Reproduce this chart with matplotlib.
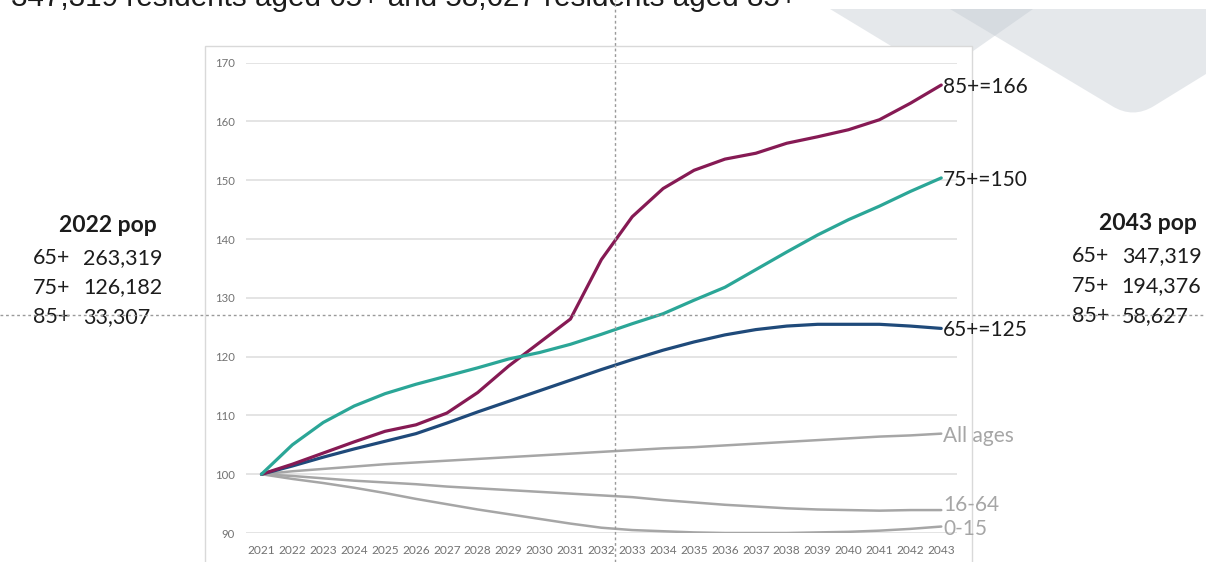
import matplotlib
matplotlib.use("Agg")
import matplotlib.pyplot as plt
import matplotlib.transforms as mtransforms
from matplotlib.patches import Polygon, Rectangle, PathPatch
from matplotlib.path import Path
from matplotlib.lines import Line2D

plt.rcParams["font.family"] = ["Lato", "DejaVu Sans"]

# ---- data: population index, 2021 = 100 ----
years = list(range(2021, 2044))

age_85_plus = [100, 101.7, 103.6, 105.5, 107.3, 108.4, 110.4, 113.9, 118.4, 122.4,
               126.4, 136.5, 143.8, 148.6, 151.7, 153.6, 154.6, 156.3, 157.4, 158.6,
               160.3, 163.1, 166.2]
age_75_plus = [100, 105.0, 108.8, 111.6, 113.7, 115.3, 116.7, 118.1, 119.6, 120.7,
               122.1, 123.8, 125.6, 127.3, 129.6, 131.8, 134.8, 137.8, 140.7, 143.3,
               145.6, 148.1, 150.4]
age_65_plus = [100, 101.4, 102.9, 104.3, 105.6, 106.9, 108.7, 110.6, 112.4, 114.2,
               116.0, 117.8, 119.5, 121.1, 122.5, 123.7, 124.6, 125.2, 125.5, 125.5,
               125.5, 125.2, 124.8]
all_ages = [100, 100.5, 100.9, 101.3, 101.7, 102.0, 102.3, 102.6, 102.9, 103.2,
            103.5, 103.8, 104.1, 104.4, 104.6, 104.9, 105.2, 105.5, 105.8, 106.1,
            106.4, 106.6, 106.9]
age_16_64 = [100, 99.7, 99.3, 98.9, 98.6, 98.3, 97.9, 97.6, 97.3, 97.0,
             96.7, 96.4, 96.1, 95.6, 95.2, 94.8, 94.5, 94.2, 94.0, 93.9,
             93.8, 93.9, 93.9]
age_0_15 = [100, 99.2, 98.5, 97.7, 96.8, 95.8, 94.9, 94.0, 93.2, 92.4,
            91.6, 90.9, 90.5, 90.3, 90.1, 90.0, 90.0, 90.0, 90.1, 90.2,
            90.4, 90.7, 91.1]

y_ticks = [90, 100, 110, 120, 130, 140, 150, 160, 170]

pop_2022_groups = ["65+", "75+", "85+"]
pop_2022_values = ["263,319", "126,182", "33,307"]
pop_2043_groups = ["65+", "75+", "85+"]
pop_2043_values = ["347,319", "194,376", "58,627"]

headline = "347,319 residents aged 65+ and 58,627 residents aged 85+"

# reference markers
marker_year = 2032.43
marker_index = 127.0

# ---- styling ----
C_85 = "#861a54"
C_75 = "#2ba697"
C_65 = "#1f4a7a"
C_GREY = "#a6a6a6"
C_GRID = "#dcdcdc"
C_TICK = "#727272"
C_TEXT = "#1c1c1c"

W, H = 1206, 562
fig = plt.figure(figsize=(W / 100, H / 100), dpi=100)
# pixel coordinates measured from the top-left corner of the figure
px = mtransforms.Affine2D().scale(1 / W, -1 / H).translate(0, 1) + fig.transFigure

# background chevrons
diamond_a = Polygon([(830, 9), (1033, 9), (939, 75)], closed=True,
                    transform=px, facecolor="#c2c9d1", alpha=0.42,
                    edgecolor="none", zorder=0)
fig.add_artist(diamond_a)
verts = [(950, 9), (1112, 106), (1133, 119), (1154, 106), (1206, 74), (1206, 9), (950, 9)]
codes = [Path.MOVETO, Path.LINETO, Path.CURVE3, Path.CURVE3, Path.LINETO,
         Path.LINETO, Path.CLOSEPOLY]
diamond_b = PathPatch(Path(verts, codes), transform=px, facecolor="#c2c9d1",
                      alpha=0.42, edgecolor="none", zorder=0)
fig.add_artist(diamond_b)

# chart frame
frame = Rectangle((205, 45.7), 766.7, 600, transform=px, facecolor="white",
                  edgecolor="#d9d9d9", linewidth=1.0, zorder=1)
fig.add_artist(frame)

# plotting area
left, right = 246 / W, 956.7 / W
bottom, top = 1 - 533 / H, 1 - 62.7 / H
ax = fig.add_axes([left, bottom, right - left, top - bottom], zorder=2)
ax.patch.set_visible(False)

grey_series = [(all_ages, "All ages", 0), (age_16_64, "16-64", 5), (age_0_15, "0-15", 0)]
for vals, name, dy in grey_series:
    ax.plot(years, vals, color=C_GREY, lw=1.8, solid_capstyle="round", zorder=3)
    ax.annotate(name, xy=(years[-1], vals[-1]), xytext=(1.5, dy),
                textcoords="offset points", ha="left", va="center_baseline",
                fontsize=15, color=C_GREY, annotation_clip=False)

main_series = [(age_65_plus, "65+", C_65), (age_85_plus, "85+", C_85), (age_75_plus, "75+", C_75)]
for vals, name, col in main_series:
    ax.plot(years, vals, color=col, lw=2.3, solid_capstyle="round", zorder=4)
    ax.annotate(f"{name}={round(vals[-1])}", xy=(years[-1], vals[-1]),
                xytext=(1.5, 0), textcoords="offset points", ha="left",
                va="center_baseline", fontsize=15, color=C_TEXT,
                annotation_clip=False)

ax.set_xlim(2020.5, 2043.5)
ax.set_ylim(90, 170)
ax.set_xticks(years)
ax.set_xticklabels([str(y) for y in years])
ax.set_yticks(y_ticks)
ax.grid(axis="y", color=C_GRID, lw=1.1)
ax.set_axisbelow(True)
for s in ax.spines.values():
    s.set_visible(False)
ax.tick_params(axis="x", length=0, labelsize=8.6, colors=C_TICK, pad=8.5)
ax.tick_params(axis="y", length=0, labelsize=8.2, colors=C_TICK, pad=8.2)

# dashed reference lines spanning the whole figure
vtrans = mtransforms.blended_transform_factory(ax.transData, fig.transFigure)
htrans = mtransforms.blended_transform_factory(fig.transFigure, ax.transData)
fig.add_artist(Line2D([marker_year, marker_year], [0, 1], transform=vtrans,
                      color="#9a9a9a", lw=1.0, ls=(0, (2, 2)), zorder=5))
fig.add_artist(Line2D([0, 1], [marker_index, marker_index], transform=htrans,
                      color="#9a9a9a", lw=1.0, ls=(0, (2, 2)), zorder=5))

# side summaries
fig.text(108, 223.5, "2022 pop", transform=px, ha="center", va="center_baseline",
         fontsize=16.5, fontweight="bold", color=C_TEXT)
for i, (g, v) in enumerate(zip(pop_2022_groups, pop_2022_values)):
    y = 256 + i * 29.5
    fig.text(33, y, g, transform=px, ha="left", va="center_baseline", fontsize=15.5, color=C_TEXT)
    fig.text(83, y, v, transform=px, ha="left", va="center_baseline", fontsize=15.5, color=C_TEXT)

fig.text(1147.5, 222, "2043 pop", transform=px, ha="center", va="center_baseline",
         fontsize=16.5, fontweight="bold", color=C_TEXT)
for i, (g, v) in enumerate(zip(pop_2043_groups, pop_2043_values)):
    y = 254 + i * 30
    fig.text(1071.7, y, g, transform=px, ha="left", va="center_baseline", fontsize=15.5, color=C_TEXT)
    fig.text(1121.7, y, v, transform=px, ha="left", va="center_baseline", fontsize=15.5, color=C_TEXT)

# headline, partly above the top edge
fig.text(11, 5.5, headline, transform=px, ha="left", va="baseline", fontsize=21.3,
         family=["Liberation Sans", "DejaVu Sans"], color=C_TEXT)

fig.savefig("out.png", dpi=100)
